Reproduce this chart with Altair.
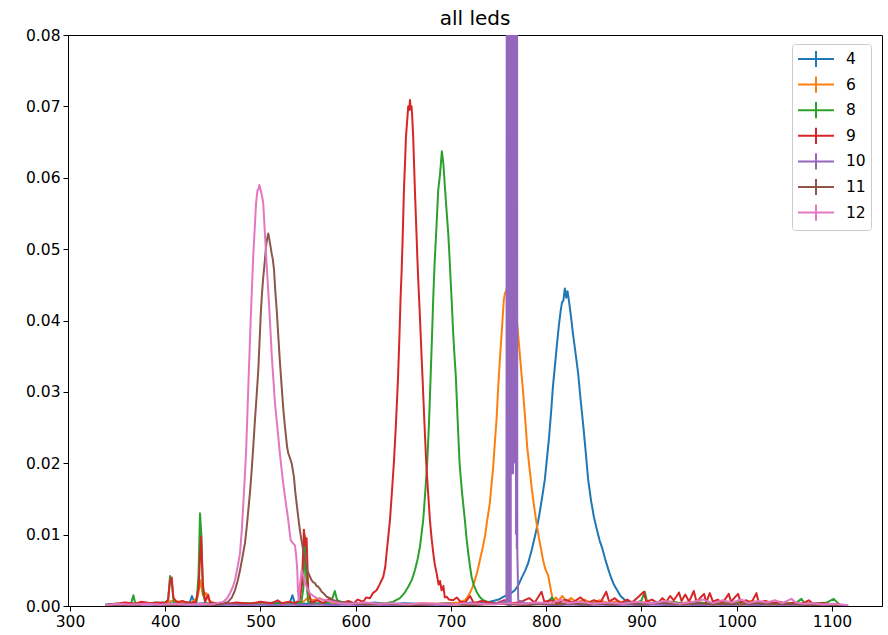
import altair as alt
import pandas as pd

# Normalised emission spectra of each LED: (wavelength nm, intensity)
LED_4 = [(337,0.0002),(348,0.0003),(360,0.0002),(372,0.0004),(385,0.0003),(398,0.0005),(410,0.0003),(420,0.0004),(426,0.0006),(428,0.0014),(431,0.0003),(442,0.0004),(455,0.0002),(470,0.0003),(485,0.0004),(500,0.0003),(515,0.0005),(525,0.0003),(531,0.0005),(533.5,0.0015),(536,0.0004),(548,0.0003),(562,0.0004),(578,0.0002),(592,0.0004),(606,0.0003),(620,0.0005),(635,0.0002),(650,0.0004),(665,0.0003),(680,0.0002),(695,0.0004),(710,0.0003),(722,0.0005),(735,0.0004),(744,0.0007),(750,0.0009),(754,0.0012),(758,0.0015),(763,0.0018),(767,0.0022),(771,0.003),(774,0.0039),(778,0.005),(781,0.006),(785,0.008),(788,0.0097),(791,0.0115),(793,0.013),(796,0.0155),(798.5,0.0177),(801,0.021),(803,0.0237),(805,0.027),(807,0.0307),(809,0.0335),(811,0.0363),(813,0.039),(815,0.0412),(816.5,0.0425),(818,0.0428),(819.5,0.0445),(821,0.0432),(822.3,0.0441),(824,0.0426),(826,0.0405),(828,0.0382),(831,0.0352),(833.5,0.0326),(836,0.029),(839,0.0251),(841.5,0.0215),(844,0.0177),(847,0.0148),(850,0.0125),(853,0.0108),(856,0.0092),(859,0.008),(862,0.0065),(865,0.0052),(868,0.004),(871,0.003),(874,0.0023),(878,0.0014),(882,0.0009),(887,0.0005),(895,0.0003),(908,0.0004),(922,0.0002),(938,0.0004),(952,0.0003),(968,0.0002),(985,0.0004),(1000,0.0003),(1018,0.0002),(1035,0.0004),(1052,0.0003),(1070,0.0002),(1088,0.0003),(1105,0.0002)]

LED_6 = [(337,0.0001),(350,0.0003),(362,0.0002),(375,0.0004),(388,0.0003),(400,0.0005),(410,0.0008),(418,0.0004),(428,0.0005),(434,0.0012),(437,0.0036),(439.5,0.0015),(443,0.0018),(446,0.0008),(450,0.0004),(462,0.0003),(475,0.0002),(490,0.0004),(505,0.0003),(520,0.0002),(535,0.0004),(545,0.0006),(550,0.0012),(555,0.0008),(562,0.0011),(570,0.0006),(582,0.0004),(595,0.0003),(610,0.0004),(625,0.0002),(640,0.0003),(655,0.0002),(670,0.0004),(685,0.0003),(700,0.0004),(708,0.0005),(714.6,0.0008),(717,0.0012),(719.8,0.0018),(722.5,0.0026),(725.1,0.0036),(728,0.005),(730.3,0.0064),(733,0.008),(735.6,0.0097),(738,0.012),(740.8,0.0144),(742.5,0.017),(744.3,0.0195),(746,0.0228),(747.8,0.0261),(749.5,0.0305),(751.3,0.0345),(752.8,0.0375),(754.1,0.0401),(755.4,0.0428),(756.6,0.0438),(758.3,0.0443),(760.5,0.0462),(762.5,0.0471),(764.3,0.0458),(766,0.0447),(767.4,0.043),(768.8,0.0405),(770.2,0.0385),(771.6,0.0363),(773.7,0.033),(775.8,0.0298),(778,0.026),(780,0.0223),(782.3,0.0195),(784.6,0.0167),(787.2,0.014),(789.8,0.0116),(792,0.0098),(794.5,0.008),(796.7,0.0064),(799,0.0052),(802,0.0043),(803.8,0.003),(805.5,0.0018),(807.2,0.0006),(810,0.0012),(813,0.0008),(817,0.0014),(821,0.0006),(826,0.0011),(832,0.0005),(840,0.0009),(848,0.0004),(856,0.0008),(865,0.0004),(875,0.0007),(885,0.0003),(898,0.0006),(912,0.0003),(926,0.0007),(940,0.0004),(955,0.0006),(970,0.0003),(985,0.0005),(1000,0.0003),(1015,0.0007),(1030,0.0003),(1045,0.0005),(1060,0.0003),(1075,0.0004),(1090,0.0002),(1105,0.0003)]

LED_8 = [(337,0.0001),(350,0.0003),(360,0.0002),(364.5,0.0005),(366.5,0.0015),(368.5,0.0004),(378,0.0003),(390,0.0005),(398,0.0003),(403,0.0008),(405,0.0042),(407,0.003),(409,0.0005),(418,0.0003),(428,0.0004),(433,0.0006),(435,0.0045),(436.5,0.013),(438,0.0098),(439.5,0.002),(442,0.0004),(455,0.0003),(470,0.0002),(485,0.0004),(500,0.0002),(515,0.0003),(528,0.0002),(538,0.0004),(543,0.0006),(545,0.0025),(546.5,0.0098),(548,0.004),(550,0.0006),(560,0.0003),(570,0.0005),(575,0.0009),(578,0.0021),(580.5,0.0008),(590,0.0003),(605,0.0002),(620,0.0003),(632,0.0004),(639.4,0.0006),(646.4,0.0011),(651,0.0018),(655.1,0.0027),(659,0.0037),(662.1,0.005),(665,0.0066),(667.4,0.0083),(670.8,0.012),(673,0.016),(675,0.02),(677,0.026),(678.6,0.0321),(680,0.0375),(681.4,0.0433),(682.8,0.048),(684.2,0.0517),(685.4,0.055),(686.6,0.0583),(688.5,0.0605),(690.4,0.0637),(692,0.062),(693.6,0.0587),(695.3,0.0555),(697.1,0.0522),(698.4,0.049),(699.6,0.0457),(701,0.042),(702.3,0.0382),(703.7,0.035),(705.1,0.0321),(707,0.026),(709,0.02),(711.5,0.016),(714.6,0.012),(716.3,0.0095),(718.1,0.0074),(720,0.0055),(721.6,0.0041),(724,0.0029),(726.9,0.002),(730,0.0013),(733.8,0.0008),(740,0.0005),(748,0.0003),(758,0.0005),(768,0.0003),(780,0.0004),(792,0.0003),(802,0.0006),(806,0.0012),(810,0.0004),(822,0.0003),(835,0.0005),(850,0.0003),(865,0.0004),(880,0.0003),(895,0.0004),(900,0.0008),(903.5,0.002),(906,0.0005),(918,0.0004),(932,0.0006),(945,0.0003),(960,0.0005),(975,0.0003),(990,0.0004),(1005,0.0006),(1020,0.0003),(1035,0.0005),(1050,0.0003),(1062,0.0004),(1067.8,0.001),(1072,0.0003),(1085,0.0004),(1095,0.0005),(1101.8,0.001),(1107,0.0003)]

LED_9 = [(337,0.0001),(348,0.0003),(358,0.0005),(368,0.0003),(375,0.0006),(385,0.0004),(393,0.0005),(400,0.0004),(403,0.0009),(405,0.0035),(406.8,0.004),(408.5,0.0012),(412,0.0005),(418,0.0007),(425,0.0004),(432,0.0006),(435,0.0025),(437.6,0.0097),(439.5,0.003),(442,0.0006),(445,0.0016),(447,0.0005),(456,0.0004),(465,0.0003),(475,0.0005),(488,0.0003),(500,0.0006),(512,0.0004),(518,0.0008),(522,0.0004),(530,0.0006),(536,0.0004),(541,0.0008),(543.5,0.003),(545.6,0.0107),(547,0.0085),(548.4,0.0095),(550,0.0025),(553,0.0005),(560,0.0008),(566,0.0004),(572,0.001),(578,0.0005),(585,0.0003),(592,0.0007),(598,0.0004),(602,0.0009),(607.9,0.0006),(611,0.0012),(614.9,0.0011),(618,0.0018),(621.9,0.0022),(625,0.003),(628.9,0.0041),(631,0.0055),(632.4,0.0074),(634,0.0095),(635.9,0.012),(638,0.016),(640,0.02),(642,0.025),(644.3,0.0317),(645.8,0.0375),(647.1,0.0433),(648.2,0.047),(649.2,0.0513),(650.6,0.0583),(651.7,0.062),(652.7,0.0657),(654,0.068),(655.1,0.07),(656.2,0.0695),(656.9,0.0709),(657.8,0.0696),(658.6,0.07),(659.5,0.068),(660.3,0.0657),(661.2,0.062),(662.1,0.0583),(663,0.055),(663.9,0.0517),(664.7,0.0487),(665.6,0.0457),(666.9,0.042),(668.1,0.0382),(669.1,0.035),(670.2,0.0317),(672,0.026),(674,0.02),(676,0.0158),(677.9,0.012),(679.6,0.0095),(681.4,0.0074),(683,0.0058),(684.9,0.0046),(687,0.003),(688.5,0.0035),(690.1,0.0022),(692,0.0028),(693.5,0.0012),(695.4,0.0013),(698,0.0009),(702.3,0.0008),(706,0.0012),(710,0.0006),(715,0.0005),(720,0.0014),(724,0.0004),(732,0.0007),(740,0.0005),(748,0.0004),(756,0.0008),(765,0.0004),(774,0.0006),(782,0.0011),(788,0.0005),(795,0.002),(798,0.0006),(805,0.0008),(812,0.0004),(820,0.0009),(828,0.0005),(836,0.0012),(843,0.0004),(850,0.0008),(857,0.0005),(863,0.002),(866,0.0006),(872,0.0011),(878,0.0004),(885,0.0009),(890,0.0005),(896,0.0012),(902.4,0.002),(905,0.0006),(911,0.0009),(917,0.0004),(922,0.0011),(926,0.0006),(930,0.0014),(934,0.0008),(939.4,0.0019),(942,0.0007),(946,0.0016),(950,0.0006),(954.9,0.0021),(958,0.0005),(962,0.0012),(965.7,0.0017),(968,0.0005),(971.7,0.0018),(975,0.0006),(980,0.0009),(985,0.0004),(991.6,0.0017),(994,0.0006),(998,0.0012),(1001.4,0.0017),(1004,0.0005),(1010,0.0008),(1015,0.0004),(1020.7,0.0018),(1023,0.0005),(1030,0.0007),(1038,0.0004),(1045,0.0006),(1052,0.0003),(1060,0.0005),(1068,0.0003),(1075.6,0.0008),(1080,0.0003),(1090,0.0004),(1100,0.0002),(1108,0.0003)]

# LED 10 saturates the detector: (wavelength nm, intensity, error)
LED_10 = [(337,0.0001,0),(350,0.0002,0),(365,0.0001,0),(380,0.0002,0),(395,0.0001,0),(410,0.0002,0),(425,0.0001,0),(440,0.0002,0),(455,0.0001,0),(470,0.0002,0),(485,0.0001,0),(500,0.0002,0),(515,0.0001,0),(530,0.0002,0),(545,0.0001,0),(560,0.0002,0),(575,0.0001,0),(590,0.0002,0),(605,0.0001,0),(620,0.0002,0),(635,0.0001,0),(650,0.0002,0),(665,0.0001,0),(680,0.0002,0),(695,0.0001,0),(710,0.0003,0),(725,0.0002,0),(740,0.0003,0),(750,0.0004,0),(758.2,0.0007,0),(759.3,0.3,0.3),(760.0,0.31,0.31),(760.7,0.32,0.32),(761.4,0.32,0.32),(762.1,0.31,0.31),(763.0,0.3,0.3),(763.4,0.0186,0),(765.2,0.0186,0),(765.6,0.3,0.28),(766.4,0.31,0.29),(767.2,0.31,0.29),(768.0,0.3,0.29),(768.8,0.28,0.272),(769.6,0.0078,0),(770.6,0.0008,0),(780,0.0003,0),(795,0.0002,0),(810,0.0001,0),(825,0.0002,0),(840,0.0001,0),(855,0.0002,0),(870,0.0001,0),(885,0.0002,0),(900,0.0001,0),(915,0.0002,0),(930,0.0001,0),(945,0.0002,0),(960,0.0001,0),(975,0.0002,0),(990,0.0001,0),(1005,0.0002,0),(1020,0.0001,0),(1035,0.0002,0),(1050,0.0001,0),(1065,0.0002,0),(1080,0.0001,0),(1095,0.0002,0),(1117,0.0001,0)]

LED_11 = [(337,0.0001),(350,0.0002),(365,0.0001),(380,0.0003),(395,0.0002),(410,0.0001),(425,0.0003),(440,0.0002),(452,0.0001),(460,0.0003),(466.2,0.0006),(470,0.0012),(473.2,0.0022),(476,0.0035),(478.5,0.005),(481,0.0068),(483.7,0.0088),(485.5,0.011),(487.2,0.0134),(489,0.016),(490.8,0.0191),(492.5,0.0225),(494.2,0.0261),(496,0.0296),(497.7,0.0331),(499,0.037),(500.5,0.0415),(501.7,0.044),(502.9,0.0461),(504.3,0.048),(505.8,0.0503),(507,0.0515),(508.2,0.0522),(510,0.0508),(511.7,0.0494),(513,0.0485),(514.2,0.0471),(515.6,0.044),(517,0.0415),(518.7,0.0378),(520.5,0.034),(522.2,0.0308),(524,0.0275),(525.4,0.0255),(526.8,0.0237),(528,0.0222),(529.2,0.0214),(531,0.0207),(532.7,0.02),(534,0.019),(535.1,0.0181),(536.5,0.016),(537.9,0.0144),(539.6,0.0125),(541.4,0.0106),(543,0.0092),(544.9,0.0078),(547,0.0064),(549.1,0.005),(551.4,0.0043),(553.7,0.0036),(555.5,0.0033),(557.2,0.0032),(558.9,0.0028),(560.6,0.0027),(562.4,0.0024),(564.2,0.002),(566.8,0.0017),(569.5,0.0013),(573,0.0011),(576.4,0.0008),(583,0.0006),(590.5,0.0005),(600,0.0003),(615,0.0002),(630,0.0003),(645,0.0002),(660,0.0001),(675,0.0002),(690,0.0003),(705,0.0002),(720,0.0001),(735,0.0002),(750,0.0003),(765,0.0002),(780,0.0001),(795,0.0003),(810,0.0002),(825,0.0004),(840,0.0002),(855,0.0003),(870,0.0002),(885,0.0004),(900,0.0002),(915,0.0005),(930,0.0003),(945,0.0002),(960,0.0004),(975,0.0002),(990,0.0003),(1005,0.0002),(1020,0.0004),(1035,0.0002),(1050,0.0003),(1065,0.0002),(1080,0.0001),(1095,0.0002),(1110,0.0001)]

LED_12 = [(337,0.0001),(350,0.0003),(365,0.0002),(380,0.0003),(395,0.0002),(410,0.0003),(425,0.0002),(440,0.0003),(448,0.0002),(454,0.0004),(461,0.0006),(465,0.0011),(468,0.0018),(471,0.0027),(473.2,0.0036),(476,0.0055),(478.5,0.0074),(480.3,0.0105),(482,0.0144),(483.4,0.0178),(484.8,0.0214),(486,0.026),(487.2,0.0307),(488.5,0.0355),(489.7,0.0401),(491.1,0.0448),(492.5,0.0494),(494,0.053),(495.3,0.0564),(496.8,0.0582),(498.2,0.0585),(498.7,0.059),(500,0.0584),(501.5,0.0575),(502.9,0.0564),(504.3,0.053),(505.8,0.0494),(507.3,0.046),(508.9,0.0424),(510.3,0.039),(511.7,0.0354),(513.4,0.032),(515.2,0.0284),(517,0.026),(518.7,0.0237),(520.4,0.0213),(522.2,0.0191),(524,0.017),(525.7,0.0153),(527.4,0.0137),(529.2,0.012),(530.5,0.0105),(531.7,0.0092),(534,0.0088),(536.2,0.0085),(537.5,0.007),(538.6,0.005),(539.4,0.002),(540.1,0.0008),(541.5,0.003),(543.2,0.005),(545,0.0042),(546.7,0.0032),(549,0.0025),(552,0.0018),(555.5,0.0014),(559,0.0011),(564,0.0009),(569.5,0.0008),(576,0.0006),(583.4,0.0004),(595,0.0003),(610,0.0005),(625,0.0003),(640,0.0004),(655,0.0002),(670,0.0004),(685,0.0003),(700,0.0002),(715,0.0004),(730,0.0003),(745,0.0002),(760,0.0004),(775,0.0003),(790,0.0005),(805,0.0004),(815,0.0009),(822,0.0004),(835,0.0006),(850,0.0003),(865,0.0005),(880,0.0003),(895,0.0006),(910,0.0004),(925,0.0007),(940,0.0003),(955,0.0006),(965,0.0009),(975,0.0004),(985,0.0008),(995,0.0005),(1005,0.0009),(1012,0.0004),(1022,0.0007),(1032,0.0005),(1040,0.0008),(1048,0.0004),(1057.4,0.001),(1062,0.0005),(1070,0.0003),(1080,0.0004),(1090,0.0002),(1100,0.0003),(1110,0.0002),(1117,0.0001)]

LED_NAMES = ["4", "6", "8", "9", "10", "11", "12"]
LED_COLORS = ["#1f77b4", "#ff7f0e", "#2ca02c", "#d62728", "#9467bd", "#8c564b", "#e377c2"]
X_TICKS = [300, 400, 500, 600, 700, 800, 900, 1000, 1100]
Y_TICKS = [0.0, 0.01, 0.02, 0.03, 0.04, 0.05, 0.06, 0.07, 0.08]

FONT = "DejaVu Sans"
FS = 15.5
spectra = [LED_4, LED_6, LED_8, LED_9, LED_10, LED_11, LED_12]

rows = []
for name, pts in zip(LED_NAMES, spectra):
    for p in pts:
        err = p[2] if len(p) > 2 else 0.0
        rows.append({"led": name, "wl": p[0], "value": p[1], "err": err})
df = pd.DataFrame(rows)

axis_style = dict(title=None, grid=False, labelFont=FONT, labelFontSize=FS,
                  labelColor="black", domainColor="black", tickColor="black",
                  tickSize=5, domainWidth=1, tickWidth=1, labelPadding=3)

x_enc = alt.X("wl:Q",
              scale=alt.Scale(domain=[297.9, 1152.5], nice=False, zero=False),
              axis=alt.Axis(values=X_TICKS, format="d", **axis_style))
y_enc = alt.Y("value:Q",
              scale=alt.Scale(domain=[0, 0.08], nice=False, zero=False),
              axis=alt.Axis(values=Y_TICKS, format=".2f", **axis_style))
color_enc = alt.Color(
    "led:N",
    scale=alt.Scale(domain=LED_NAMES, range=LED_COLORS),
    legend=alt.Legend(
        title=None, orient="none", legendX=724, legendY=9,
        symbolType="M-1,0H3M1,-0.9V0.9", symbolSize=324, symbolStrokeWidth=2,
        labelFont=FONT, labelFontSize=FS, labelColor="black", labelOffset=29,
        padding=5, rowPadding=-0.4, strokeColor="#cccccc", fillColor="white",
        cornerRadius=3,
    ),
)

layers = []
for name in LED_NAMES:
    sub = df[df["led"] == name]
    layers.append(
        alt.Chart(sub).mark_line(strokeWidth=2, clip=True, strokeJoin="round")
        .encode(x=x_enc, y=y_enc, color=color_enc)
    )
    errs = sub[sub["err"] > 0]
    if len(errs):
        layers.append(
            alt.Chart(errs).mark_rule(strokeWidth=1.5, clip=True)
            .transform_calculate(lo="datum.value - datum.err", hi="datum.value + datum.err")
            .encode(x=x_enc, y=alt.Y("lo:Q"), y2=alt.Y2("hi:Q"), color=color_enc)
        )

chart = (
    alt.layer(*layers)
    .properties(
        width=814, height=571,
        title=alt.TitleParams("all leds", font=FONT, fontSize=20, fontWeight="normal",
                              color="black", offset=-1),
        autosize=alt.AutoSizeParams(type="none"),
        padding={"left": 68, "top": 35, "right": 6, "bottom": 29},
        background="white",
    )
    .configure_view(stroke="black", strokeWidth=1)
)

chart.save("out.html", embed_options={"renderer": "svg", "actions": False})
